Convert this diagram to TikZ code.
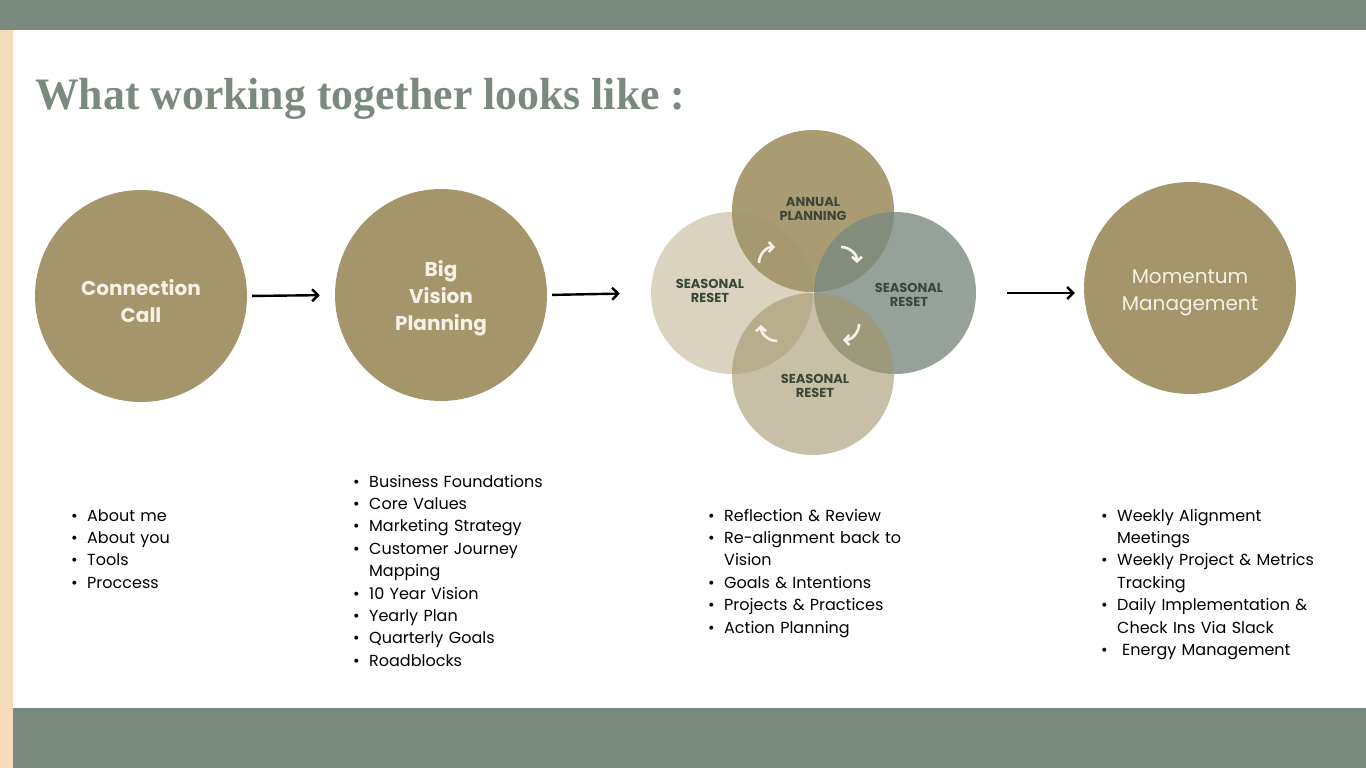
\documentclass[tikz,border=0pt]{standalone}
\usepackage{fontspec}
\setmainfont{Poppins}
\newfontfamily\titlefont{Liberation Serif}
\usetikzlibrary{arrows.meta}

\definecolor{sage}{HTML}{7B8A7F}
\definecolor{peach}{HTML}{F5DCB9}
\definecolor{olive}{HTML}{A4966A}
\definecolor{cream}{HTML}{F6F1E7}
\definecolor{darkleaf}{HTML}{3B473A}

% one bullet line, wrapped lines stay under the text
\newcommand{\litem}[1]{{\leftskip=16pt\noindent\hskip-16pt\hbox to 16pt{\textbullet\hfil}#1\par}}

\tikzset{
  stage/.style={circle, fill=olive, minimum size=212pt, inner sep=0pt},
  stagetext/.style={text=cream, align=center, font=\bfseries\fontsize{20}{27}\selectfont},
  season/.style={circle, minimum size=162pt, inner sep=0pt, fill=olive},
  seasonlabel/.style={text=darkleaf, align=center, font=\bfseries\fontsize{13}{14}\selectfont},
  flowarrow/.style={line width=2.4pt, -{Straight Barb[length=6pt,width=12pt]}},
  turnarrow/.style={cream, line width=2.6pt, -{Straight Barb[length=4.5pt,width=10pt]}},
  bullets/.style={anchor=base west, inner sep=0pt, text width=280pt, align=left,
    font=\fontsize{16}{22.4}\selectfont},
}

\begin{document}
\begin{tikzpicture}[x=1pt,y=-1pt]
  \useasboundingbox (0,0) rectangle (1366,768);

  % frame
  \fill[sage] (0,0) rectangle (1366,30);
  \fill[peach] (0,30) rectangle (13,768);
  \fill[sage] (13,708) rectangle (1366,768);

  \node[anchor=base west, inner sep=0pt, text=sage,
    font=\titlefont\bfseries\fontsize{45}{50}\selectfont] (title) at (35,110)
    {\resizebox{650pt}{\height}{What working together looks like :}};

  % stages
  \node[stage] (conn) at (141,296) {};
  \node[stage] (vision) at (441,295) {};
  \node[stage] (momentum) at (1190,288) {};
  \node[stagetext] (conntext) at (141,301) {Connection\\Call};
  \node[stagetext] (visiontext) at (441,298.5) {Big\\Vision\\Planning};
  \node[stagetext, font=\fontsize{20}{27}\selectfont] (momentumtext) at (1190,293) {Momentum\\Management};

  % seasons
  \node[season, fill opacity=.95] (annual) at (813,211) {};
  \node[season, fill=sage, fill opacity=.8] (sright) at (895,293) {};
  \node[season, fill opacity=.42] (sleft) at (732,293) {};
  \node[season, fill opacity=.6] (sbottom) at (813,374) {};

  \node[seasonlabel] (lannual) at (813,209) {ANNUAL\\PLANNING};
  \node[seasonlabel] (lleft) at (710,291) {SEASONAL\\RESET};
  \node[seasonlabel] (lright) at (909,295) {SEASONAL\\RESET};
  \node[seasonlabel] (lbottom) at (815,386) {SEASONAL\\RESET};

\foreach \cx/\cy/\a in {775/263/180, 841/263/270, 843/324/0, 777/325/90}
    \draw[turnarrow] (\cx,\cy) ++(\a:16) arc[start angle=\a, end angle=\a+90, radius=16];

  \draw[flowarrow, shorten <=5pt, shorten >=15pt] (conn.east) -- (vision.west);
  \draw[flowarrow, shorten <=5pt, shorten >=31pt] (vision.east) -- (sleft.west);
  \draw[flowarrow, shorten <=31pt, shorten >=9pt] (sright.east) -- (sright.east -| momentum.west);

  % lists
  \node[bullets] (list1) at (71,521) {\litem{About me}\litem{About you}\litem{Tools}\litem{Proccess}};
  \node[bullets] (list2) at (353,487) {\litem{Business Foundations}\litem{Core Values}
    \litem{Marketing Strategy}\litem{Customer Journey\\Mapping}\litem{10 Year Vision}
    \litem{Yearly Plan}\litem{Quarterly Goals}\litem{Roadblocks}};
  \node[bullets] (list3) at (708,521) {\litem{Reflection \& Review}\litem{Re-alignment back to\\Vision}
    \litem{Goals \& Intentions}\litem{Projects \& Practices}\litem{Action Planning}};
  \node[bullets] (list4) at (1101,521) {\litem{Weekly Alignment\\Meetings}
    \litem{Weekly Project \& Metrics\\Tracking}\litem{Daily Implementation \&\\Check Ins Via Slack}
    \litem{\hspace{5pt}Energy Management}};

\end{tikzpicture}
\end{document}
